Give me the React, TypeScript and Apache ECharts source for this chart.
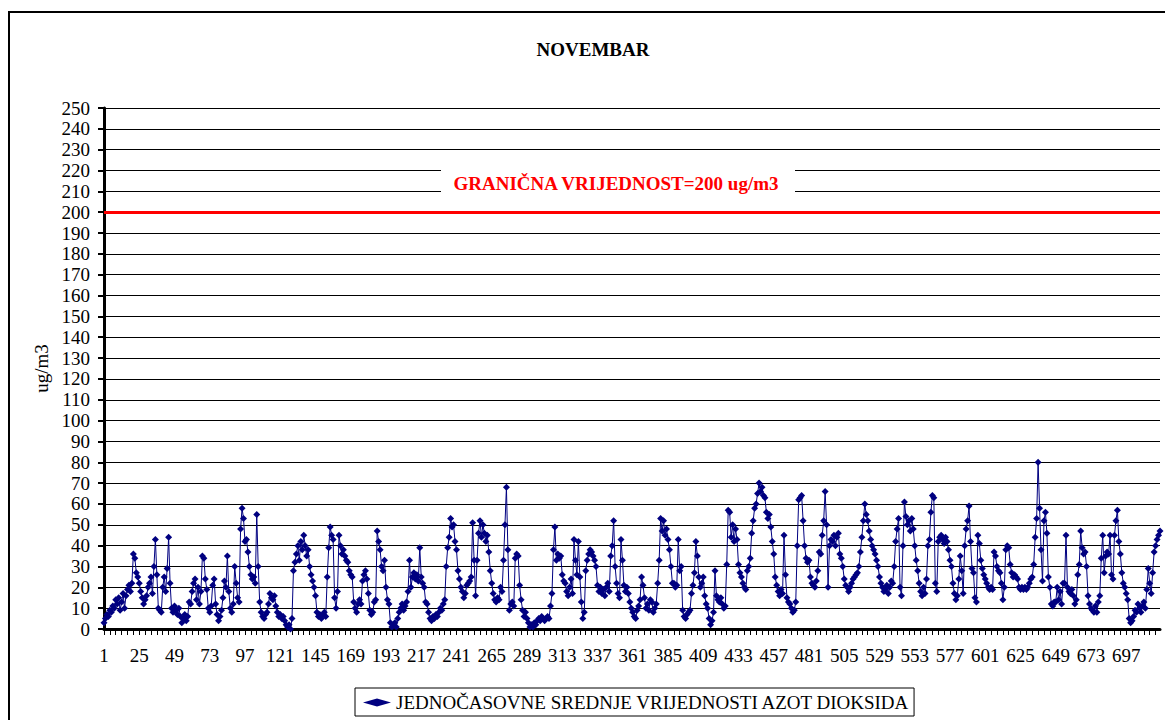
import React, { useEffect, useRef } from "react";
import * as echarts from "echarts";

const TITLE = "NOVEMBAR";
const SERIES_NAME = "JEDNOČASOVNE SREDNJE VRIJEDNOSTI AZOT DIOKSIDA";
const LIMIT_TEXT = "GRANIČNA VRIJEDNOST=200 ug/m3";
const LIMIT_VALUE = 200;
const Y_NAME = "ug/m3";

// hourly values, November (720 hours)
const part1 = [3, 5, 7, 6, 9, 8, 11, 10, 14, 12, 15, 9, 13, 17, 10, 16, 19, 21, 18, 22, 36, 34, 27, 25, 22, 18, 15, 12, 14, 16, 20, 22, 25, 17, 30, 43, 26, 10, 9, 8, 20, 25, 18, 29, 44, 22, 10, 8, 11, 9, 7, 10, 6, 3, 5, 7, 4, 6, 13, 12, 18, 22, 24, 14];
const part2 = [20, 12, 18, 35, 34, 24, 19, 10, 8, 11, 21, 24, 12, 7, 4, 6, 9, 15, 23, 20, 35, 18, 10, 8, 12, 30, 22, 15, 13, 48, 58, 53, 42, 43, 37, 30, 26, 24, 25, 22, 55, 30, 13, 8, 6, 5, 7, 8, 12, 17, 15, 14, 16, 11, 8, 6, 7, 5, 6, 4, 2, 1, 2, 0];
const part3 = [5, 28, 32, 36, 40, 33, 42, 38, 45, 40, 35, 38, 30, 26, 23, 20, 16, 8, 6, 7, 5, 7, 8, 6, 25, 39, 49, 45, 43, 15, 10, 18, 45, 40, 36, 38, 35, 33, 32, 28, 26, 25, 13, 10, 8, 12, 14, 12, 23, 26, 28, 24, 17, 9, 7, 8, 13, 14, 47, 42, 38, 30, 28, 33, 20];
const part4 = [14, 12, 3, 1, 2, 3, 1, 5, 8, 10, 12, 9, 11, 13, 18, 33, 20, 25, 27, 24, 26, 23, 39, 25, 22, 20, 13, 12, 8, 5, 4, 6, 5, 7, 6, 8, 10, 9, 12, 14, 30, 39, 44, 53, 49, 50, 42, 38, 28, 24, 20, 18, 15, 17, 21, 22, 23, 25, 51, 33, 16, 33, 46, 52, 44];
const part5 = [50, 46, 42, 45, 37, 28, 22, 17, 14, 13, 15, 14, 20, 18, 33, 50, 68, 38, 9, 12, 13, 11, 34, 36, 35, 21, 14, 9, 6, 8, 5, 3, 1, 2, 1, 3, 2, 4, 5, 4, 6, 5, 4, 5, 6, 5, 11, 17, 38, 49, 33, 36, 34, 35, 26, 23, 22, 18, 16, 20, 24, 17, 43, 33, 26];
const part6 = [42, 25, 13, 5, 8, 28, 33, 36, 38, 37, 35, 33, 30, 21, 18, 20, 17, 19, 16, 20, 22, 18, 35, 40, 52, 30, 22, 17, 15, 43, 33, 21, 18, 20, 17, 13, 10, 8, 6, 5, 9, 11, 14, 25, 21, 15, 10, 12, 9, 14, 13, 8, 10, 12, 22, 33, 53, 47, 52, 45, 48, 43, 38, 30, 22];
const part7 = [22, 20, 21, 43, 28, 30, 9, 6, 5, 7, 8, 9, 17, 21, 27, 42, 35, 25, 20, 22, 25, 16, 12, 10, 5, 2, 4, 8, 28, 16, 14, 13, 15, 12, 10, 11, 31, 57, 56, 44, 50, 42, 48, 43, 31, 27, 25, 22, 20, 19, 28, 30, 34, 46, 52, 58, 60, 65, 70, 66, 68, 64, 63, 56, 53];
const part8 = [55, 49, 42, 36, 25, 21, 18, 16, 19, 17, 45, 26, 15, 13, 12, 10, 8, 9, 13, 40, 62, 63, 64, 52, 40, 34, 32, 33, 25, 22, 21, 20, 23, 28, 37, 36, 45, 52, 66, 50, 20, 40, 43, 42, 45, 40, 44, 46, 36, 34, 30, 24, 21, 20, 18, 20, 22, 24, 25, 26, 27, 30, 37, 44, 52];
const part9 = [60, 55, 52, 47, 43, 40, 38, 36, 33, 30, 25, 22, 20, 18, 19, 21, 17, 20, 23, 22, 30, 42, 48, 53, 20, 16, 40, 61, 54, 50, 52, 47, 53, 48, 40, 33, 28, 22, 18, 16, 20, 17, 24, 40, 43, 56, 64, 63, 22, 18, 42, 44, 45, 43, 41, 44, 42, 38, 33, 30, 22, 17, 14, 16, 24];
const part10 = [35, 28, 17, 40, 48, 52, 59, 42, 29, 27, 15, 13, 45, 41, 33, 29, 26, 24, 22, 20, 19, 20, 19, 37, 35, 30, 28, 27, 22, 14, 20, 38, 40, 39, 31, 27, 25, 26, 25, 24, 20, 19, 20, 19, 20, 19, 20, 22, 24, 25, 31, 44, 53, 80, 58, 38, 23, 52, 56, 46, 25, 20, 12, 11, 13];
const part11 = [13, 20, 14, 18, 12, 22, 22, 45, 20, 18, 17, 19, 16, 12, 14, 26, 31, 47, 39, 36, 37, 30, 16, 12, 10, 9, 8, 11, 8, 13, 16, 34, 45, 27, 35, 37, 36, 45, 26, 24, 45, 52, 57, 42, 36, 27, 22, 20, 17, 14, 5, 3, 4, 6, 9, 8, 12, 10, 8, 11, 13, 10, 19, 29, 22, 17, 27, 37, 40, 43, 45, 47];

const values = [
  ...part1, ...part2, ...part3, ...part4, ...part5, ...part6,
  ...part7, ...part8, ...part9, ...part10, ...part11,
];
const hours = values.map((_, i) => String(i + 1));

const Y_MIN = 0;
const Y_MAX = 250;
const Y_STEP = 10;

const FONT = "Liberation Serif";
const legendText = { fontFamily: FONT, fontSize: 19, color: "#000" };

export default function App() {
  const ref = useRef<HTMLDivElement>(null);

  useEffect(() => {
    document.body.style.margin = "0";
    if (!ref.current) return;
    const chart = echarts.init(ref.current, null, { renderer: "svg" });
    chart.setOption({
      animation: false,
      backgroundColor: "#ffffff",
      textStyle: { fontFamily: FONT },
      title: {
        text: TITLE,
        left: 588,
        top: 35,
        textAlign: "center",
        textStyle: { fontFamily: FONT, fontSize: 19, fontWeight: "bold", color: "#000" },
      },
      grid: { left: 104, right: 5, top: 108, bottom: 91, containLabel: false },
      legend: {
        left: 355,
        top: 688,
        padding: [5, 4, 4, 8],
        borderColor: "#000",
        borderWidth: 1,
        itemWidth: 28,
        itemHeight: 8,
        itemGap: 6,
        textStyle: legendText,
        data: [{ name: SERIES_NAME, icon: "diamond" }],
      },
      graphic: [
        {
          type: "rect",
          shape: { x: 9, y: 12, width: 1200, height: 760 },
          style: { fill: "none", stroke: "#000", lineWidth: 2 },
          silent: true,
          z: 0,
        },
        {
          type: "rect",
          shape: { x: 441, y: 168, width: 354, height: 28 },
          style: { fill: "#fff", stroke: "none" },
          silent: true,
          z: 50,
        },
        {
          type: "text",
          x: 616,
          y: 183,
          style: {
            text: LIMIT_TEXT,
            fill: "#ff0000",
            fontFamily: FONT,
            fontSize: 19,
            fontWeight: "bold",
            align: "center",
            verticalAlign: "middle",
          },
          silent: true,
          z: 51,
        },
      ],
      xAxis: {
        type: "category",
        data: hours,
        boundaryGap: false,
        axisLine: { show: true, lineStyle: { color: "#000", width: 3 } },
        axisTick: { show: true, interval: 3, length: 6, lineStyle: { color: "#000", width: 1 } },
        axisLabel: {
          interval: 23,
          margin: 17,
          fontFamily: FONT,
          fontSize: 19,
          color: "#000",
        },
        splitLine: { show: false },
      },
      yAxis: {
        type: "value",
        min: Y_MIN,
        max: Y_MAX,
        interval: Y_STEP,
        name: Y_NAME,
        nameLocation: "middle",
        nameGap: 53,
        nameRotate: 90,
        nameTextStyle: { fontFamily: FONT, fontSize: 19, color: "#000" },
        axisLine: { show: true, lineStyle: { color: "#000", width: 3 } },
        axisTick: { show: true, inside: false, length: 6, lineStyle: { color: "#000", width: 2 } },
        axisLabel: { margin: 14, fontFamily: FONT, fontSize: 19, color: "#000" },
        splitLine: { show: true, lineStyle: { color: "#000", width: 1 } },
      },
      series: [
        {
          name: SERIES_NAME,
          type: "line",
          data: values,
          symbol: "diamond",
          symbolSize: 7,
          showAllSymbol: true,
          itemStyle: { color: "#000080" },
          lineStyle: { color: "#000080", width: 1 },
          z: 10,
          markLine: {
            silent: true,
            symbol: "none",
            label: { show: false },
            lineStyle: { color: "#ff0000", width: 3, type: "solid" },
            data: [{ yAxis: LIMIT_VALUE }],
            z: 5,
          },
        },
      ],
    });
    return () => chart.dispose();
  }, []);

  return <div ref={ref} style={{ width: 1165, height: 720 }} />;
}
